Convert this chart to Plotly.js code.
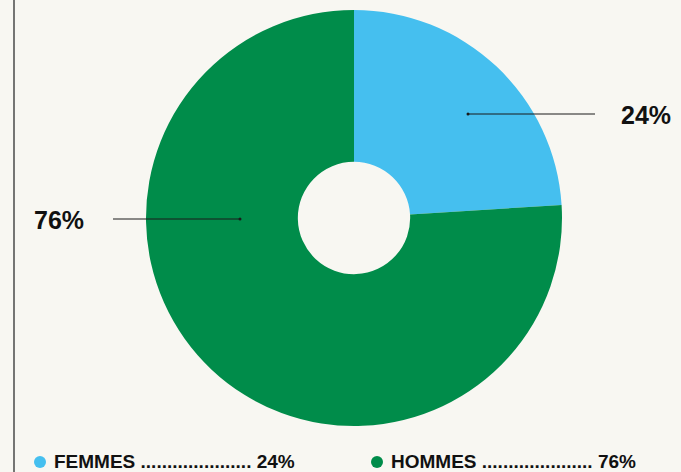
<!DOCTYPE html>
<html>
<head>
<meta charset="utf-8">
<script src="https://cdn.plot.ly/plotly-3.0.1.min.js"></script>
<style>
html,body{margin:0;padding:0;background:#f8f7f2;}
#chart{width:681px;height:472px;}
</style>
</head>
<body>
<div id="chart"></div>
<script>
const labels = ["FEMMES", "HOMMES"];
const values = [24, 76];
const colors = ["#45bfef", "#008c4a"];
const W = 681, H = 472;
const px = x => x / W;
const py = y => 1 - y / H;

const pct = v => v + "%";
const dots = ".....................";

const trace = {
  type: "pie",
  labels: labels,
  values: values,
  marker: {colors: colors, line: {width: 0}},
  hole: 0.27,
  sort: false,
  direction: "clockwise",
  rotation: 0,
  textinfo: "none",
  hoverinfo: "none",
  showlegend: false,
  domain: {x: [px(146), px(562)], y: [py(426), py(10)]}
};

const shapes = [
  {type: "line", xref: "paper", yref: "paper", x0: px(14), x1: px(14), y0: 0, y1: 1,
   line: {color: "#4a4a4a", width: 1.5}},
  // leader lines
  {type: "line", xref: "paper", yref: "paper", x0: px(468), x1: px(595), y0: py(114), y1: py(114),
   line: {color: "#1a1a1a", width: 1}},
  {type: "circle", xref: "paper", yref: "paper", x0: px(466.5), x1: px(469.5), y0: py(115.5), y1: py(112.5),
   fillcolor: "#1a1a1a", line: {width: 0}},
  {type: "line", xref: "paper", yref: "paper", x0: px(113), x1: px(240), y0: py(219), y1: py(219),
   line: {color: "#1a1a1a", width: 1}},
  {type: "circle", xref: "paper", yref: "paper", x0: px(238.5), x1: px(241.5), y0: py(220.5), y1: py(217.5),
   fillcolor: "#1a1a1a", line: {width: 0}},
  // legend dots
  {type: "circle", xref: "paper", yref: "paper", x0: px(34), x1: px(46), y0: py(468), y1: py(456),
   fillcolor: colors[0], line: {width: 0}},
  {type: "circle", xref: "paper", yref: "paper", x0: px(371), x1: px(383), y0: py(468), y1: py(456),
   fillcolor: colors[1], line: {width: 0}}
];

const labelFont = {family: "Liberation Sans, Arial, sans-serif", size: 25, color: "#111111", weight: 700};
const legFont = {family: "Liberation Sans, Arial, sans-serif", size: 19, color: "#111111", weight: 700};

const annotations = [
  {xref: "paper", yref: "paper", x: px(619), y: py(115), xanchor: "left", yanchor: "middle",
   text: "<b>" + pct(values[0]) + "</b>", showarrow: false, font: labelFont},
  {xref: "paper", yref: "paper", x: px(32), y: py(220), xanchor: "left", yanchor: "middle",
   text: "<b>" + pct(values[1]) + "</b>", showarrow: false, font: labelFont},
  {xref: "paper", yref: "paper", x: px(52), y: py(461), xanchor: "left", yanchor: "middle",
   text: "<b>" + labels[0] + " " + dots + " " + pct(values[0]) + "</b>", showarrow: false, font: legFont},
  {xref: "paper", yref: "paper", x: px(389), y: py(461), xanchor: "left", yanchor: "middle",
   text: "<b>" + labels[1] + " " + dots + " " + pct(values[1]) + "</b>", showarrow: false, font: legFont}
];

const layout = {
  width: W, height: H,
  margin: {l: 0, r: 0, t: 0, b: 0},
  paper_bgcolor: "#f8f7f2",
  plot_bgcolor: "#f8f7f2",
  showlegend: false,
  shapes: shapes,
  annotations: annotations
};

Plotly.newPlot("chart", [trace], layout, {displayModeBar: false, staticPlot: true});
</script>
</body>
</html>
